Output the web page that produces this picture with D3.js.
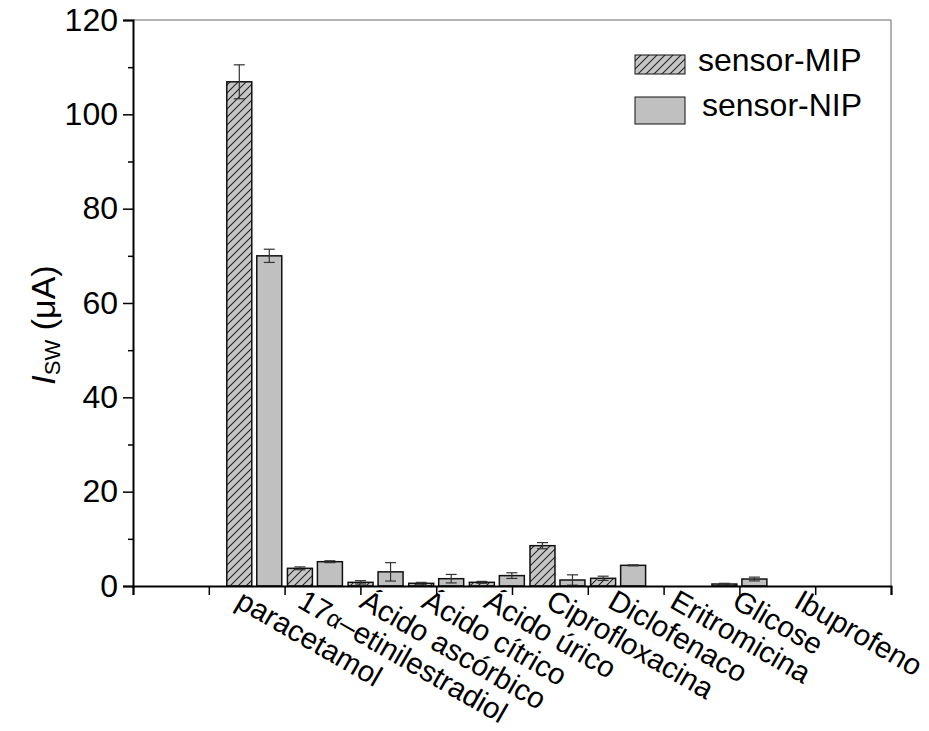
<!DOCTYPE html>
<html>
<head>
<meta charset="utf-8">
<script src="https://cdn.jsdelivr.net/npm/d3@7"></script>
<style>
  html, body { margin: 0; padding: 0; background: #fff; }
  svg { display: block; font-family: "Liberation Sans", Arial, sans-serif; }
</style>
</head>
<body>
<svg id="chart" width="929" height="731"></svg>
<script>
// Interferents tested with the MIP and NIP sensors
const categories = ["paracetamol", "17α–etinilestradiol", "Ácido ascórbico", "Ácido cítrico",
  "Ácido úrico", "Ciprofloxacina", "Diclofenaco", "Eritromicina", "Glicose", "Ibuprofeno"];
const mipValues = [106.9, 3.75, 0.78, 0.57, 0.78, 8.55, 1.63, 0, 0.42, 0];
const mipErrors = [3.6, 0.3, 0.35, 0.2, 0.2, 0.65, 0.45, 0, 0.15, 0];
const nipValues = [70.0, 5.15, 3.0, 1.55, 2.2, 1.27, 4.38, 0, 1.48, 0];
const nipErrors = [1.4, 0.2, 1.95, 0.9, 0.6, 1.1, 0.1, 0, 0.4, 0];
const yTicks = [0, 20, 40, 60, 80, 100, 120];
const yMinorTicks = [10, 30, 50, 70, 90, 110];
const seriesNames = ["sensor-MIP", "sensor-NIP"];

const svg = d3.select("#chart");
const plotLeft = 133, plotRight = 891, plotTop = 20, plotBottom = 586;

// x: linear axis, categories sit at positions 2..11, ticks every 1.25
const x = d3.scaleLinear().domain([0, 12.5]).range([plotLeft, plotRight]);
const y = d3.scaleLinear().domain([0, 120]).range([plotBottom, plotTop]);
const catPos = d3.scalePoint().domain(categories).range([x(2), x(11)]);
const labelPos = d3.scalePoint().domain(categories).range([x(1.84), x(11.05)]);
const groupW = x(1) - x(0);
const barW = groupW * 0.412;
const gap = groupW * 0.0825;

// hatch pattern for the MIP series
const defs = svg.append("defs");
const pat = defs.append("pattern").attr("id", "hatch")
  .attr("patternUnits", "userSpaceOnUse").attr("width", 8).attr("height", 8);
pat.append("rect").attr("width", 8).attr("height", 8).attr("fill", "#c6c6c6");
pat.append("path").attr("d", "M-2,2 L2,-2 M0,8 L8,0 M6,10 L10,6")
  .attr("stroke", "#262626").attr("stroke-width", 1.1);

// frame (top and right)
svg.append("line").attr("x1", plotLeft).attr("x2", plotRight).attr("y1", plotTop).attr("y2", plotTop)
  .attr("stroke", "#666").attr("stroke-width", 1);
svg.append("line").attr("x1", plotRight).attr("x2", plotRight).attr("y1", plotTop).attr("y2", plotBottom)
  .attr("stroke", "#666").attr("stroke-width", 1);

const rows = categories.map((c, i) => ({
  c, mip: mipValues[i], mipE: mipErrors[i], nip: nipValues[i], nipE: nipErrors[i]
}));

function drawSeries(key, errKey, offset, fill) {
  const data = rows.filter(d => d[key] > 0);
  const g = svg.append("g");
  g.selectAll("rect").data(data).join("rect")
    .attr("x", d => catPos(d.c) + offset)
    .attr("y", d => y(d[key]))
    .attr("width", barW)
    .attr("height", d => y(0) - y(d[key]))
    .attr("fill", fill)
    .attr("stroke", "#111").attr("stroke-width", 1.5);
  const eg = g.selectAll("g.err").data(data.filter(d => d[errKey] > 0)).join("g")
    .attr("class", "err")
    .attr("stroke", "#333").attr("stroke-width", 1.2);
  const cx = d => catPos(d.c) + offset + barW / 2;
  eg.append("line").attr("x1", cx).attr("x2", cx)
    .attr("y1", d => y(d[key] + d[errKey])).attr("y2", d => y(Math.max(0, d[key] - d[errKey])));
  eg.append("line").attr("x1", d => cx(d) - 5.5).attr("x2", d => cx(d) + 5.5)
    .attr("y1", d => y(d[key] + d[errKey])).attr("y2", d => y(d[key] + d[errKey]));
  eg.append("line").attr("x1", d => cx(d) - 5.5).attr("x2", d => cx(d) + 5.5)
    .attr("y1", d => y(Math.max(0, d[key] - d[errKey]))).attr("y2", d => y(Math.max(0, d[key] - d[errKey])));
}
drawSeries("mip", "mipE", -gap / 2 - barW, "url(#hatch)");
drawSeries("nip", "nipE", gap / 2, "#c0c0c0");

// y axis
const yAxis = svg.append("g").attr("transform", `translate(${plotLeft},0)`)
  .call(d3.axisLeft(y).tickValues(yTicks).tickSize(10).tickPadding(5).tickFormat(d3.format("d")));
svg.append("g").attr("transform", `translate(${plotLeft},0)`)
  .call(d3.axisLeft(y).tickValues(yMinorTicks).tickSize(5).tickFormat(""))
  .call(g => g.select(".domain").remove());

// x axis
const xAxis = svg.append("g").attr("transform", `translate(0,${plotBottom})`)
  .call(d3.axisBottom(x).tickValues(d3.range(0, 12.5001, 1.25)).tickSize(9).tickFormat(""));

svg.selectAll(".domain").attr("stroke", "#000").attr("stroke-width", 2);
svg.selectAll(".tick line").attr("stroke", "#000").attr("stroke-width", 1.5);
yAxis.selectAll(".tick text").attr("font-size", 32).attr("fill", "#000")
  .attr("font-family", "Liberation Sans, Arial, sans-serif");

// rotated category labels; Greek letters are set a little smaller
const labels = svg.append("g").selectAll("text").data(categories).join("text")
  .attr("transform", d => `translate(${labelPos(d)},588) rotate(30)`)
  .attr("dy", "0.72em")
  .attr("font-size", 29.5)
  .attr("fill", "#000");
labels.each(function (d) {
  const t = d3.select(this);
  d.split(/(α)/).filter(s => s.length).forEach(part => {
    const ts = t.append("tspan").text(part);
    if (part === "α") ts.attr("font-size", 24);
  });
});

// y axis title
const yt = svg.append("text")
  .attr("transform", "translate(55,325) rotate(-90)")
  .attr("text-anchor", "middle")
  .attr("font-size", 34).attr("fill", "#000");
yt.append("tspan").attr("font-style", "italic").text("I");
yt.append("tspan").attr("font-size", 22).attr("dy", 5).text("SW");
yt.append("tspan").attr("dy", -5).text(" (μA)");

// legend
const legend = svg.append("g");
legend.append("rect").attr("x", 635).attr("y", 55).attr("width", 50).attr("height", 19)
  .attr("fill", "url(#hatch)").attr("stroke", "#111").attr("stroke-width", 1);
legend.append("rect").attr("x", 635).attr("y", 97).attr("width", 50).attr("height", 27)
  .attr("fill", "#c0c0c0").attr("stroke", "#111").attr("stroke-width", 1);
legend.append("text").attr("x", 698).attr("y", 71).attr("font-size", 32).attr("fill", "#000").text(seriesNames[0]);
legend.append("text").attr("x", 702).attr("y", 116).attr("font-size", 32).attr("fill", "#000").text(seriesNames[1]);
</script>
</body>
</html>
